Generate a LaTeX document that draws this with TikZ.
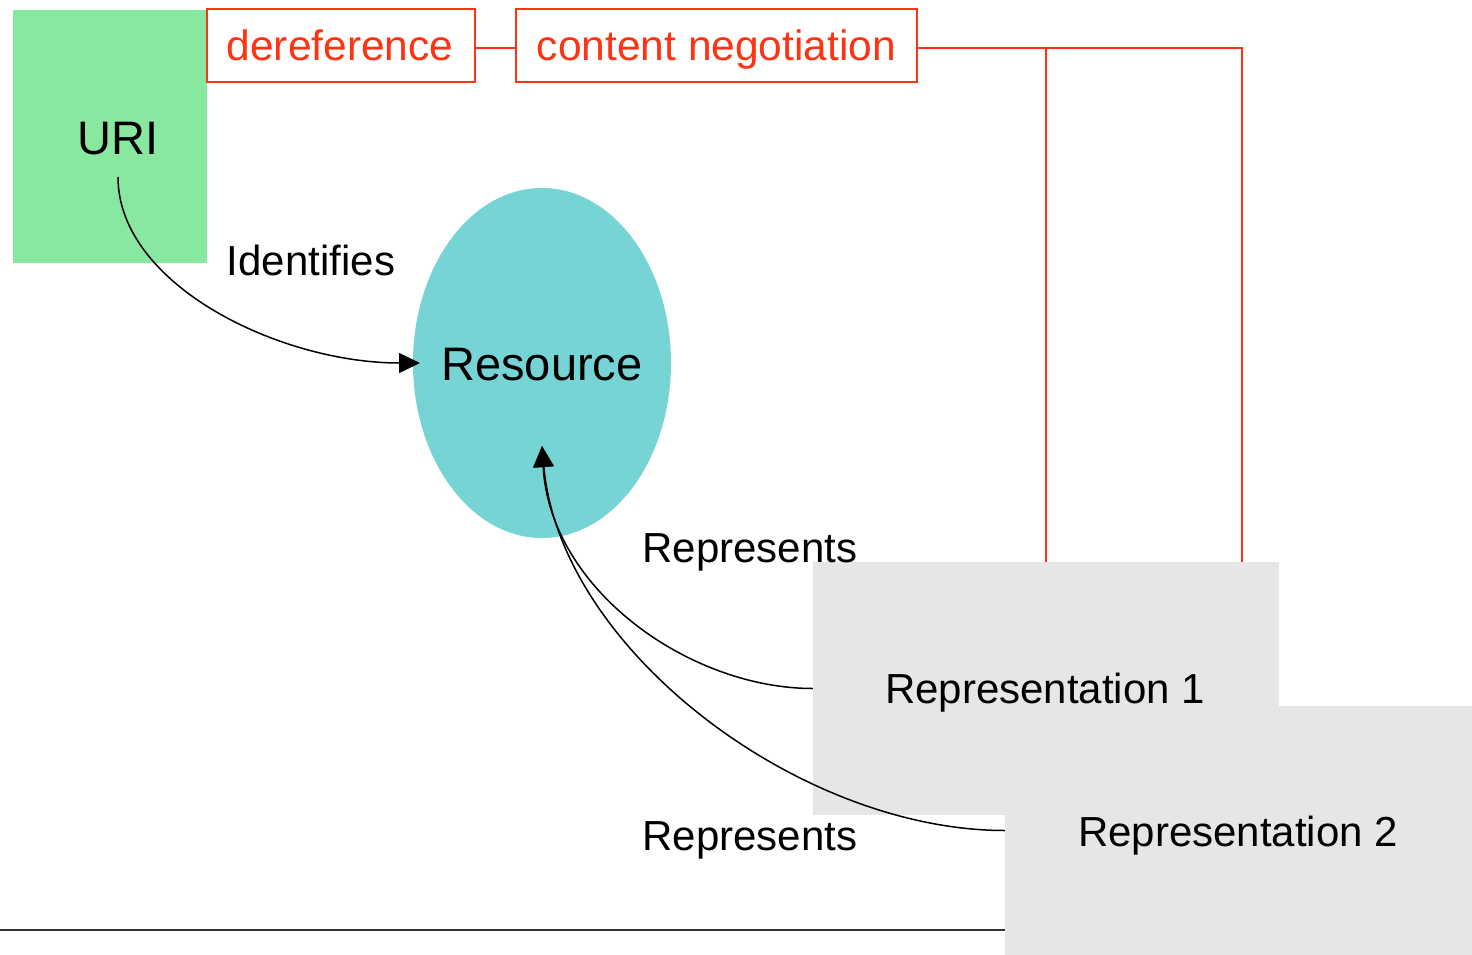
\documentclass[tikz,border=0pt]{standalone}
\usepackage{fontspec}
\setmainfont{Liberation Sans}
\usetikzlibrary{arrows.meta,shapes.geometric}
\definecolor{urigreen}{HTML}{88E8A0}
\definecolor{resteal}{HTML}{76D4D4}
\definecolor{negred}{HTML}{FF3314}
\definecolor{repgray}{HTML}{E6E6E6}
\definecolor{rulegray}{HTML}{333333}
\tikzset{
  txt/.style={font=\fontsize{42}{50}\selectfont, inner sep=0pt, anchor=base},
  bigtxt/.style={font=\fontsize{47}{56}\selectfont, inner sep=0pt, anchor=base},
  redbox/.style={draw=negred, line width=2pt, fill=white, minimum height=73pt, inner sep=0pt},
  redtxt/.style={text=negred, font=\fontsize{42.5}{50}\selectfont, inner sep=0pt, anchor=base},
  redline/.style={draw=negred, line width=2pt},
  repbox/.style={fill=repgray, inner sep=0pt},
  conn/.style={draw=black, line width=1.5pt},
  tip/.style={-{Triangle[length=21pt,width=20pt]}}
}
\begin{document}
\begin{tikzpicture}[x=1pt,y=-1pt]
\useasboundingbox (0,0) rectangle (1472,955);
\fill[white] (0,0) rectangle (1472,955);

% URI box
\node[fill=urigreen, minimum width=194pt, minimum height=253pt, inner sep=0pt] (uribox) at (110,136.5) {};
\node[bigtxt] (uri) at (118,154) {URI};

% red boxes
\node[redbox, minimum width=268pt] (deref) at (341,45.5) {};
\node[redtxt] (dereftxt) at (340,61) {dereference};
\node[redbox, minimum width=401pt] (conneg) at (716.5,45.5) {};
\node[redtxt] (connegtxt) at (716.5,61) {content negotiation};

% Resource ellipse
\node[ellipse, fill=resteal, minimum width=258pt, minimum height=350pt, inner sep=0pt] (res) at (542,363) {};
\node[bigtxt] (restxt) at (542,380) {Resource};
\coordinate (resL) at (420,363);
\coordinate (resB) at (542,446);

% Representation 1 box
\node[repbox, minimum width=466pt, minimum height=253pt] (rep1) at (1046,688.5) {};
\node[txt] (rep1txt) at (1045,703) {Representation 1};

% red connectors
\coordinate (j1) at (1046,48);
\coordinate (j2) at (1242,48);
\coordinate (j2b) at (1242,562);
\draw[redline] (deref.east |- 0,48) -- (conneg.west |- 0,48);
\draw[redline] (conneg.east |- 0,48) -- (j2) -- (j2b);
\draw[redline] (j1) -- (rep1.north);

% bottom rule
\coordinate (ruleL) at (0,930);
\coordinate (ruleR) at (1005,930);
\draw[rulegray, line width=1.5pt] (ruleL) -- (ruleR);

% Identifies arrow
\coordinate (uriS) at (118,177);
\draw[conn, tip] (uriS) .. controls (118,285) and (280,363) .. (resL);

% Represents arrows
\draw[conn, tip] (rep1.west) .. controls (690,688.5) and (550,590) .. (resB);
\node[repbox, minimum width=467pt, minimum height=249pt] (rep2) at (1238.5,830.5) {};
\draw[conn, tip] (rep2.west) .. controls (800,830.5) and (560,650) .. (resB);
\node[txt] (rep2txt) at (1238,846) {Representation 2};

% labels
\node[txt] (ident) at (311,275) {Identifies};
\node[txt] (repr1) at (750,562) {Represents};
\node[txt] (repr2) at (750,850) {Represents};
\end{tikzpicture}
\end{document}
